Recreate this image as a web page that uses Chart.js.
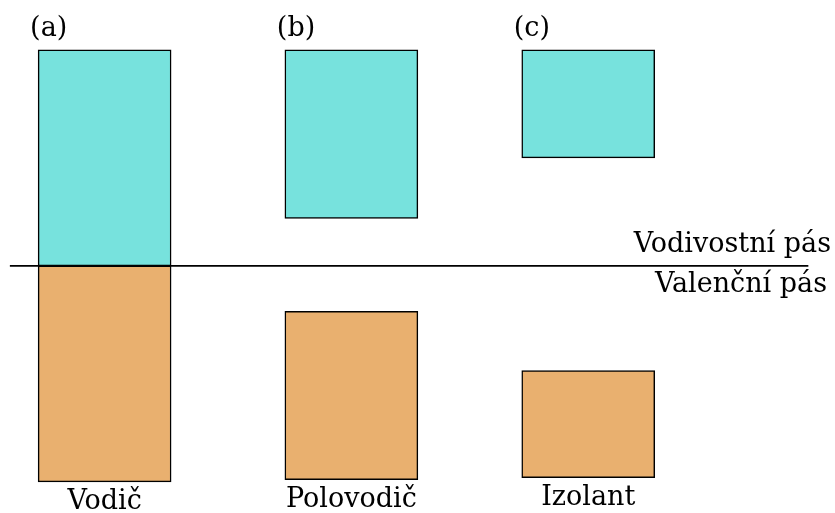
<!DOCTYPE html>
<html>
<head>
<meta charset="utf-8">
<script src="https://cdn.jsdelivr.net/npm/chart.js@4"></script>
<style>
  html, body { margin: 0; padding: 0; background: #fff; }
  canvas { display: block; }
</style>
</head>
<body>
<canvas id="bands" width="835" height="513"></canvas>
<script>
// band diagram data (energy in arbitrary units, 0 = boundary line)
const positions = [0, 2.5, 4.9];
const materials = ['Vodič', 'Polovodič', 'Izolant'];
const panels = ['(a)', '(b)', '(c)'];
const conductionBand = [[0, 10], [2.2, 10], [5, 10]];
const valenceBand = [[-10, 0], [-9.9, -2.1], [-9.8, -4.85]];
const bandLabels = ['Vodivostní pás', 'Valenční pás'];
const boundaryLine = [-0.96, 7.13];

const FONT = '27px "DejaVu Serif", "Liberation Serif", serif';

// draws the panel letters, material names and the band names
const labelsPlugin = {
    id: 'bandLabels',
    afterDatasetsDraw(chart) {
        const ctx = chart.ctx;
        const x = chart.scales.x;
        const y = chart.scales.y;
        const bars = chart.getDatasetMeta(0).data;
        ctx.save();
        ctx.font = FONT;
        ctx.fillStyle = '#000';
        ctx.textBaseline = 'alphabetic';

        positions.forEach((p, i) => {
            const cx = x.getPixelForValue(p);
            const half = bars[i].width / 2;
            ctx.textAlign = 'left';
            ctx.fillText(panels[i], cx - half - 8, y.getPixelForValue(conductionBand[i][1]) - 14);
            ctx.textAlign = 'center';
            ctx.fillText(materials[i], cx, y.getPixelForValue(valenceBand[i][0]) + 27);
        });

        const y0 = y.getPixelForValue(0);
        ctx.textAlign = 'right';
        ctx.fillText(bandLabels[0], 831, y0 - 14);
        ctx.fillText(bandLabels[1], 827, y0 + 26);
        ctx.restore();
    }
};

new Chart(document.getElementById('bands'), {
    type: 'bar',
    data: {
        datasets: [
            {
                label: 'Vodivostní pás',
                data: positions.map((p, i) => ({ x: p, y: conductionBand[i] })),
                backgroundColor: '#77e2dd',
                borderColor: '#000',
                borderWidth: 1.5,
                borderSkipped: false,
                barThickness: 133,
                grouped: false
            },
            {
                label: 'Valenční pás',
                data: positions.map((p, i) => ({ x: p, y: valenceBand[i] })),
                backgroundColor: '#e9b06f',
                borderColor: '#000',
                borderWidth: 1.5,
                borderSkipped: false,
                barThickness: 133,
                grouped: false
            },
            {
                type: 'line',
                data: boundaryLine.map(v => ({ x: v, y: 0 })),
                borderColor: '#000',
                borderWidth: 1.6,
                pointRadius: 0
            }
        ]
    },
    options: {
        responsive: false,
        animation: false,
        layout: { padding: 0 },
        plugins: {
            legend: { display: false },
            tooltip: { enabled: false }
        },
        scales: {
            x: { type: 'linear', min: -1.06, max: 7.4, offset: false, display: false },
            y: { min: -11.44, max: 12.31, display: false }
        }
    },
    plugins: [labelsPlugin]
});
</script>
</body>
</html>
